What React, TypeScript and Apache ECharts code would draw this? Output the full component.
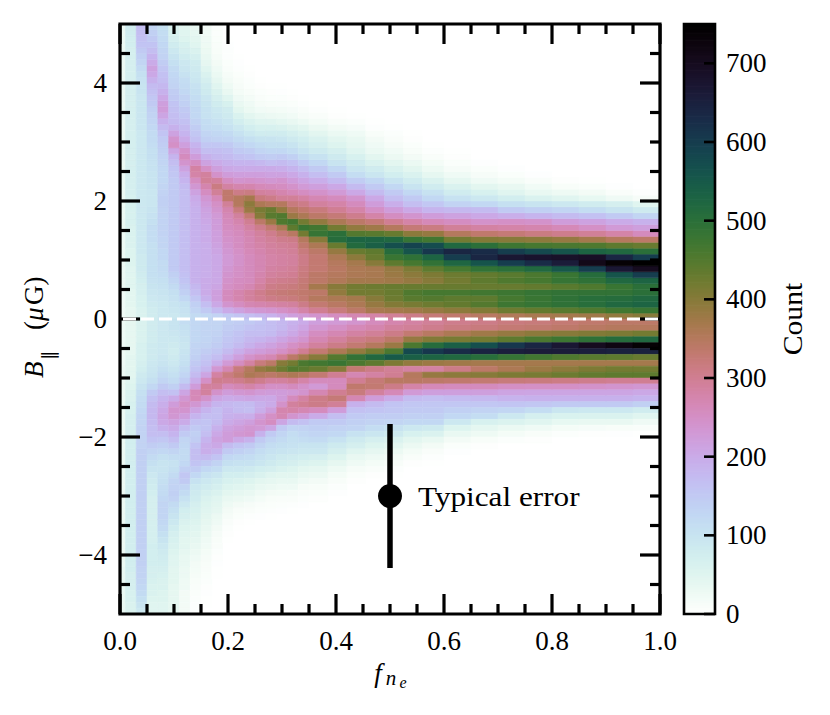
import React, { useEffect, useRef } from "react";
import * as echarts from "echarts";

const fne_edges = [0,.01,.03,.05,.07,.09,.11,.13,.15,.17,.19,.21,.23,.25,.27,.29,.31,.33,.35,.385,.42,.455,.49,.525,.56,.60,.65,.70,.75,.80,.85,.90,.95,1];

// Counts per column. "u" lists run from B=+0.05 upward, "l" lists from B=-0.05 downward, 0.1 uG per entry; omitted = 0.
const u00 = [25,25,25,25,25,30,30,30,30,30,30,30,30,30,30,30,30,30,30,30,30,30,30,30,30,30,30,30,30,30,30,30,30,30,30,30,30,30,30,30,30,30,30,30,30,30,30,30,30,30];
const l00 = [25,25,25,25,25,25,25,25,30,30,30,30,30,30,30,30,30,30,30,30,30,30,30,30,30,30,30,30,30,30,30,30,30,30,30,30,30,30,30,30,30,30,35,35,35,35,35,35,35,35];
const u01 = [40,40,45,45,45,50,50,50,50,55,55,55,60,60,60,60,65,65,65,65,65,70,70,70,70,70,70,70,70,70,70,70,70,70,70,70,70,70,70,70,70,70,70,70,70,70,75,75,80,80];
const l01 = [40,40,40,40,40,40,45,45,45,45,50,55,60,60,65,65,70,70,70,70,75,75,75,75,75,75,75,75,75,75,75,75,75,75,75,75,75,75,75,75,75,75,75,70,70,70,65,65,60,60];
const u02 = [60,60,65,65,70,70,75,80,85,85,85,90,90,90,90,90,90,90,90,90,90,90,90,90,90,90,90,90,90,90,90,90,95,95,95,95,95,95,100,100,105,110,120,130,140,150,160,165,170,170];
const l02 = [60,60,60,60,65,65,65,70,75,85,90,100,110,115,120,125,130,130,135,135,135,135,140,140,140,140,140,140,140,140,140,140,140,140,140,140,140,140,140,140,140,140,135,135,130,125,120,110,100,90];
const u03 = [80,80,85,90,95,100,105,110,110,110,110,110,110,115,115,115,110,105,100,95,95,95,100,100,100,105,105,110,110,115,120,120,125,130,135,140,150,155,165,175,190,205,215,200,185,170,160,150,140,130];
const l03 = [80,80,80,80,85,85,85,90,95,100,110,125,150,165,175,180,180,175,170,170,160,145,130,120,110,100,90,85,80,75,70,70,70,70,70,70,70,70,75,75,75,75,70,70,65,60,60,55,50,50];
const u04 = [90,90,90,95,100,105,110,115,120,120,125,125,130,130,135,135,135,135,135,140,140,135,130,125,125,125,130,135,140,145,150,160,175,190,210,225,220,205,190,180,170,165,155,145,135,130,125,120,115,110];
const l04 = [90,90,90,90,90,90,95,100,110,120,130,150,170,185,195,205,210,205,190,170,155,140,125,110,100,100,105,110,115,120,125,130,130,130,125,120,110,100,90,85,80,75,70,65,60,60,55,55,50,50];
const u05 = [90,95,100,105,110,120,130,140,150,150,150,150,150,150,150,150,150,150,150,150,150,150,150,150,155,160,170,185,210,250,240,215,190,175,170,165,160,150,145,135,130,125,120,110,100,90,80,70,65,60];
const l05 = [100,100,95,90,85,80,85,90,100,110,120,140,165,200,225,240,235,215,200,185,170,150,130,115,105,110,120,130,135,140,135,120,110,100,90,80,70,65,60,55,50,50,45,45,45,40,40,40,40,40];
const u06 = [100,105,110,125,140,150,160,165,170,170,170,170,170,170,170,170,170,170,170,170,170,170,175,185,195,215,240,260,245,220,200,185,175,165,155,150,140,135,125,120,115,105,95,90,80,70,65,55,50,45];
const l06 = [115,110,105,100,95,100,105,110,120,130,145,175,210,235,250,240,220,200,170,150,130,125,120,120,125,140,155,150,130,120,105,90,75,70,60,55,50,45,45,40,35,35,30,30,25,25,20,20,20,20];
const u07 = [120,130,140,155,170,180,190,190,190,190,190,190,190,190,190,190,190,190,190,195,200,215,235,255,280,285,255,225,200,185,165,155,145,135,125,125,120,115,110,105,95,90,85,80,70,60,50,45,40,35];
const l07 = [125,125,125,125,130,135,140,150,160,175,195,225,265,265,235,210,185,165,150,140,145,160,170,170,160,145,125,105,90,85,80,70,65,60,55,50,45,40,35,30,25,20,18,15,12,10,8,6,5,5];
const u08 = [125,150,170,190,200,200,200,195,195,195,195,195,195,200,200,200,205,210,215,225,235,255,275,295,290,250,215,190,170,155,140,130,120,115,105,105,100,95,85,80,70,60,50,40,35,30,28,25,22,20];
const l08 = [130,130,130,130,135,145,155,165,180,210,250,290,290,245,210,185,170,160,160,170,185,195,195,175,150,125,105,90,80,70,60,55,50,45,40,35,30,25,22,18,15,12,10,8,6,4,3,2,1];
const u09 = [135,175,205,220,220,210,205,205,205,205,205,210,215,220,220,225,225,230,240,250,265,295,315,290,245,220,200,180,170,155,135,125,115,105,95,90,80,70,60,50,40,32,25,20,15,12,10,8,6,5];
const l09 = [130,130,135,140,145,155,170,195,235,285,305,290,245,210,185,170,170,175,190,205,215,205,185,160,135,115,95,80,70,60,50,45,40,30,25,20,15,12,10,6,4,3,2,1];
const u10 = [150,200,240,260,260,250,245,240,235,230,230,235,240,245,250,255,260,265,275,295,335,335,285,255,225,205,190,175,165,150,130,120,105,95,85,80,65,50,35,28,20,15,10,8,5,5,3,2];
const l10 = [140,145,150,155,160,175,195,230,270,315,300,260,225,200,180,185,190,200,215,225,225,175,150,125,110,90,75,65,55,45,35,28,20,15,10,6,4,2];
const u11 = [160,215,255,275,275,260,255,250,250,245,245,250,255,255,260,265,275,290,320,350,350,310,275,240,220,200,185,165,150,135,120,105,90,75,60,45,35,25,18,15,12,8,5,3,2];
const l11 = [145,150,160,165,175,195,220,255,320,335,305,270,235,205,175,175,195,210,225,235,205,160,140,120,105,90,75,60,50,40,30,20,12,8,4,2];
const u12 = [170,230,270,290,290,270,260,260,260,260,260,265,270,270,275,285,300,330,380,395,370,315,275,245,220,200,185,160,145,125,110,90,75,60,45,30,25,18,12,8,6,4,2];
const l12 = [150,160,170,180,190,215,245,285,350,360,320,280,240,210,175,170,195,220,235,240,190,150,130,115,105,85,70,55,45,35,25,15,10,5,2];
const u13 = [180,235,275,300,305,290,280,275,270,270,270,275,280,285,290,305,340,400,415,360,320,290,265,240,220,200,180,150,130,115,100,80,65,50,35,22,15,10,6,4,2];
const l13 = [160,165,170,185,205,225,260,320,385,350,305,265,230,205,190,195,225,240,230,190,150,130,115,105,95,75,60,45,35,25,18,10,6,3];
const u14 = [190,240,280,310,320,310,300,290,285,280,280,285,290,295,305,330,380,445,430,350,310,285,260,235,215,200,170,145,125,110,100,80,65,48,30,20,12,7,4,2];
const l14 = [170,170,175,195,215,235,270,340,400,340,290,250,225,205,200,220,250,255,210,150,130,115,105,95,85,70,50,40,30,20,12,8,5,2];
const u15 = [205,250,285,315,325,315,305,295,290,285,285,290,295,305,325,360,455,455,390,350,295,275,255,240,215,195,175,150,125,110,95,80,60,42,28,18,10,6,3,1];
const l15 = [180,180,190,210,230,250,300,400,425,350,290,250,225,225,245,275,270,210,150,130,120,110,100,85,75,60,45,35,25,18,10,6,3];
const u16 = [220,260,290,320,330,320,310,300,295,290,290,295,300,310,345,440,470,380,350,320,295,265,245,225,205,185,165,140,115,100,85,70,52,35,22,14,8,4,2];
const l16 = [190,195,205,225,250,270,340,420,450,360,300,260,230,260,290,280,240,175,130,115,110,105,95,80,70,55,45,35,25,15,10,5,2];
const u17 = [230,280,310,330,335,330,325,320,315,310,310,320,335,350,420,480,420,360,335,310,285,255,230,210,190,170,145,120,100,85,75,60,45,28,15,10,5,2];
const l17 = [200,210,225,240,265,300,370,460,445,350,280,245,240,285,300,270,225,165,135,125,115,100,90,75,60,45,35,25,15,10,6,3];
const u18 = [240,300,330,350,340,370,340,340,330,330,330,340,360,400,485,470,390,340,320,290,270,245,220,195,170,150,125,105,85,70,60,45,30,18,10,5,2];
const l18 = [220,235,255,270,290,330,400,470,430,330,260,230,270,310,310,260,200,150,140,130,120,100,90,70,55,40,30,20,12,8,4];
const u19 = [255,320,345,360,390,400,355,350,345,350,360,385,430,510,500,420,360,325,300,280,260,230,205,175,150,125,100,85,70,55,45,32,20,10,4,2];
const l19 = [230,250,270,290,310,360,450,480,400,300,260,260,300,325,295,225,170,150,135,125,105,85,70,55,40,28,18,12,6,3];
const u20 = [270,340,360,370,420,420,370,360,360,370,395,430,515,530,450,390,340,305,280,260,240,205,175,145,115,95,80,65,50,40,35,25,14,6,2];
const l20 = [240,265,285,310,330,390,490,460,330,270,300,335,320,270,190,165,150,140,130,105,85,70,50,35,25,15,8,4];
const u21 = [280,365,385,400,420,425,370,365,365,400,430,440,540,530,445,375,325,280,250,225,205,175,150,125,95,80,60,45,32,25,20,12,5,2];
const l21 = [260,275,295,320,350,420,520,440,310,285,325,330,290,225,175,160,145,135,115,95,70,55,40,28,18,10,4];
const u22 = [295,370,405,425,430,430,375,380,385,440,480,510,570,520,430,350,300,255,225,195,170,150,125,100,75,60,45,30,22,15,10,6,2];
const l22 = [275,290,310,340,380,460,550,410,295,300,345,310,265,200,160,155,145,130,105,85,60,45,30,20,12,5,2];
const u23 = [310,375,415,445,455,430,385,395,410,465,495,560,590,485,395,325,280,240,205,170,150,125,100,80,60,45,32,20,12,8,4,2];
const l23 = [285,295,330,385,460,580,540,390,285,350,345,280,230,175,155,150,140,125,90,65,45,30,18,10,4];
const u24 = [325,385,425,450,465,430,400,410,440,490,530,610,575,470,385,315,265,225,185,155,125,105,80,60,40,28,18,10,5,2];
const l24 = [295,305,345,405,510,610,530,380,285,385,340,265,220,170,155,150,140,125,85,60,35,20,10,5,2];
const u25 = [335,395,435,440,465,430,420,425,465,525,600,640,520,420,350,295,255,215,180,135,105,80,60,40,25,15,8,4,1];
const l25 = [305,315,360,415,540,630,520,375,310,395,335,260,220,175,155,140,125,90,55,35,20,8,3];
const u26 = [345,405,450,440,470,430,440,435,490,560,640,630,500,405,335,285,245,205,175,125,90,65,45,25,15,8,3];
const l26 = [310,320,375,420,570,645,505,370,340,400,330,260,220,180,155,135,115,65,42,28,12,4];
const u27 = [355,425,475,465,475,430,455,445,500,600,670,600,475,400,325,280,250,195,150,110,75,50,35,18,8,3];
const l27 = [318,328,385,440,610,655,485,370,360,410,322,252,212,188,158,128,90,58,32,18,6];
const u28 = [365,435,485,480,485,435,465,460,520,630,680,580,465,395,315,275,245,185,140,100,60,35,22,10,3];
const l28 = [322,332,395,460,640,660,470,370,380,415,318,250,210,190,155,115,70,50,25,12,4];
const u29 = [370,445,495,495,490,445,485,480,555,660,685,560,460,385,305,265,225,175,130,90,50,28,12,4];
const l29 = [328,338,400,475,670,660,455,370,395,425,312,250,210,190,150,95,62,38,18,6];
const u30 = [375,455,505,505,490,455,495,510,600,710,690,530,455,370,295,250,215,165,115,80,38,20,8,2];
const l30 = [335,345,405,495,700,655,445,370,410,435,305,245,210,190,150,90,60,35,14,4];
const u31 = [390,470,520,510,490,480,520,560,670,740,640,520,440,350,280,230,200,150,100,70,25,10,3];
const l31 = [340,350,410,510,720,650,440,370,420,440,300,240,210,190,150,90,60,35,12,3];
const u32 = [400,480,530,520,500,500,530,600,700,750,600,500,430,340,260,220,190,130,85,50,15,5];
const l32 = [340,350,420,520,740,650,430,370,420,440,300,235,205,185,140,80,50,25,10,2];

const upperColumns = [u00,u01,u02,u03,u04,u05,u06,u07,u08,u09,u10,u11,u12,u13,u14,u15,u16,u17,u18,u19,u20,u21,u22,u23,u24,u25,u26,u27,u28,u29,u30,u31,u32];
const lowerColumns = [l00,l01,l02,l03,l04,l05,l06,l07,l08,l09,l10,l11,l12,l13,l14,l15,l16,l17,l18,l19,l20,l21,l22,l23,l24,l25,l26,l27,l28,l29,l30,l31,l32];

const xMajor = [0, .2, .4, .6, .8, 1];
const xMinor = [.05,.1,.15,.25,.3,.35,.45,.5,.55,.65,.7,.75,.85,.9,.95];
const yMajor = [-4, -2, 0, 2, 4];
const yMinor = [-4.5,-3.5,-3,-2.5,-1.5,-1,-.5,.5,1,1.5,2.5,3,3.5,4.5];
const barTicks = [0,100,200,300,400,500,600,700];
const errorBar = [[.5,-1.78],[.5,-4.22]];
const errorPoint = [[.5,-3]];
const zeroLine = [[0,0],[1,0]];
const VMAX = 750;
const FONT = '"Liberation Serif", serif';

// matplotlib cubehelix_r colour map
function cube(v: number) {
  const t = 1 - Math.min(1, Math.max(0, v / VMAX));
  const a = 0.5 * t * (1 - t);
  const phi = 2 * Math.PI * (0.5 / 3 + 1 - 1.5 * t);
  const c = Math.cos(phi), s = Math.sin(phi);
  const f = (x: number) => Math.round(255 * Math.min(1, Math.max(0, x)));
  return `rgb(${f(t + a * (-0.14861 * c + 1.78277 * s))},${f(t + a * (-0.29227 * c - 0.90649 * s))},${f(t + a * 1.97294 * c)})`;
}

export default function App() {
  const ref = useRef<HTMLDivElement>(null);
  useEffect(() => {
    const chart = echarts.init(ref.current!, null, { renderer: "svg" });
    const cells: number[][] = [];
    upperColumns.forEach((col, c) => col.forEach((v, r) => { if (v > 0) cells.push([fne_edges[c], fne_edges[c + 1], 0.05 + r * 0.1, v]); }));
    lowerColumns.forEach((col, c) => col.forEach((v, r) => { if (v > 0) cells.push([fne_edges[c], fne_edges[c + 1], -0.05 - r * 0.1, v]); }));

    const barLevels: number[] = [];
    for (let i = 0; i < 256; i++) barLevels.push(i);

    const ticks: { side: string; v: number; len: number }[] = [];
    xMajor.forEach((v) => { ticks.push({ side: "b", v, len: 20 }, { side: "t", v, len: 20 }); });
    xMinor.forEach((v) => { ticks.push({ side: "b", v, len: 10 }, { side: "t", v, len: 10 }); });
    yMajor.forEach((v) => { ticks.push({ side: "l", v, len: 20 }, { side: "r", v, len: 20 }); });
    yMinor.forEach((v) => { ticks.push({ side: "l", v, len: 10 }, { side: "r", v, len: 10 }); });

    const black = { stroke: "#000", lineWidth: 3.2, fill: "none" };
    const option: any = {
      animation: false,
      backgroundColor: "#fff",
      grid: [
        { left: 120, top: 24, width: 540, height: 590 },
        { left: 684, top: 24, width: 31, height: 590 },
      ],
      xAxis: [
        { type: "value", gridIndex: 0, min: 0, max: 1, interval: 0.2, axisLine: { show: false }, axisTick: { show: false }, splitLine: { show: false },
          axisLabel: { margin: 13, color: "#000", fontFamily: FONT, fontSize: 27, formatter: (v: number) => v.toFixed(1) } },
        { type: "value", gridIndex: 1, min: 0, max: 1, show: false },
      ],
      yAxis: [
        { type: "value", gridIndex: 0, min: -5, max: 5, interval: 1, axisLine: { show: false }, axisTick: { show: false }, splitLine: { show: false },
          axisLabel: { margin: 13, color: "#000", fontFamily: FONT, fontSize: 27,
            formatter: (v: number) => (Math.abs(v) % 2 === 0 ? (v < 0 ? "\u2212" + Math.abs(v) : String(v)) : "") } },
        { type: "value", gridIndex: 1, position: "right", min: 0, max: VMAX, interval: 100, axisLine: { show: false }, axisTick: { show: false }, splitLine: { show: false },
          axisLabel: { margin: 11, color: "#000", fontFamily: FONT, fontSize: 27, formatter: (v: number) => (v > 700 ? "" : String(v)) } },
      ],
      series: [
        {
          type: "custom", name: "Count", xAxisIndex: 0, yAxisIndex: 0, z: 1, clip: false, progressive: 0, silent: true,
          data: cells, encode: { x: 0, y: 2 },
          renderItem: (_: any, api: any) => {
            const y = api.value(2);
            const a = api.coord([api.value(0), y + 0.05]);
            const b = api.coord([api.value(1), y - 0.05]);
            const col = cube(api.value(3));
            return { type: "rect", shape: { x: a[0], y: a[1], width: b[0] - a[0], height: b[1] - a[1] }, style: { fill: col, stroke: col, lineWidth: 0.5 } };
          },
        },
        {
          type: "custom", name: "colorbar", xAxisIndex: 1, yAxisIndex: 1, z: 1, clip: false, progressive: 0, silent: true,
          data: barLevels.map((i) => [i]),
          renderItem: (_: any, api: any) => {
            const i = api.value(0);
            const v0 = (i / 256) * VMAX, v1 = ((i + 1) / 256) * VMAX;
            const a = api.coord([0, v1]);
            const b = api.coord([1, v0]);
            const col = cube(((i + 0.5) / 256) * VMAX);
            return { type: "rect", shape: { x: a[0], y: a[1], width: b[0] - a[0], height: b[1] - a[1] + (i > 0 ? 0.7 : 0) }, style: { fill: col } };
          },
        },
        {
          type: "custom", name: "barFrame", xAxisIndex: 1, yAxisIndex: 1, z: 4, clip: false, silent: true,
          data: [...barTicks.map((v) => [v]), [-1]],
          renderItem: (_: any, api: any) => {
            const v = api.value(0);
            if (v < 0) {
              const a = api.coord([0, VMAX]);
              const b = api.coord([1, 0]);
              return { type: "rect", shape: { x: a[0], y: a[1], width: b[0] - a[0], height: b[1] - a[1] }, style: { ...black, lineWidth: 2.6 } };
            }
            const p = api.coord([1, v]);
            return { type: "line", shape: { x1: p[0] - 11, y1: p[1], x2: p[0], y2: p[1] }, style: { stroke: "#000", lineWidth: 2.6 } };
          },
        },
        {
          type: "custom", name: "ticks", xAxisIndex: 0, yAxisIndex: 0, z: 3, clip: false, silent: true,
          data: ticks.map((t) => [t.v]),
          renderItem: (p: any, api: any) => {
            const t = ticks[p.dataIndex];
            const s = (x: number, y: number) => api.coord([x, y]);
            let sh;
            if (t.side === "b") { const q = s(t.v, -5); sh = { x1: q[0], y1: q[1], x2: q[0], y2: q[1] - t.len }; }
            else if (t.side === "t") { const q = s(t.v, 5); sh = { x1: q[0], y1: q[1], x2: q[0], y2: q[1] + t.len }; }
            else if (t.side === "l") { const q = s(0, t.v); sh = { x1: q[0], y1: q[1], x2: q[0] + t.len, y2: q[1] }; }
            else { const q = s(1, t.v); sh = { x1: q[0], y1: q[1], x2: q[0] - t.len, y2: q[1] }; }
            return { type: "line", shape: sh, style: { stroke: "#000", lineWidth: 3.2 } };
          },
        },
        {
          type: "custom", name: "frame", xAxisIndex: 0, yAxisIndex: 0, z: 3, clip: false, silent: true,
          data: [[0]],
          renderItem: (_: any, api: any) => {
            const a = api.coord([0, 5]);
            const b = api.coord([1, -5]);
            return { type: "rect", shape: { x: a[0], y: a[1], width: b[0] - a[0], height: b[1] - a[1] }, style: black };
          },
        },
        { type: "line", xAxisIndex: 0, yAxisIndex: 0, z: 5, clip: false, silent: true, symbol: "none", data: zeroLine,
          lineStyle: { color: "#fff", width: 3, type: [13, 5], dashOffset: -3 } },
        { type: "line", xAxisIndex: 0, yAxisIndex: 0, z: 6, clip: false, silent: true, symbol: "none", data: errorBar,
          lineStyle: { color: "#000", width: 5.5, cap: "butt" } },
        { type: "scatter", xAxisIndex: 0, yAxisIndex: 0, z: 7, silent: true, symbolSize: 24, data: errorPoint, itemStyle: { color: "#000", opacity: 1 } },
      ],
      graphic: [
        { type: "text", x: 418, y: 497, scaleX: 1.115, z: 10, style: { text: "Typical error", font: `28px ${FONT}`, fill: "#000", verticalAlign: "middle", align: "left" } },
        { type: "text", x: 793, y: 319, rotation: Math.PI / 2, scaleX: 1.1, z: 10, style: { text: "Count", font: `27px ${FONT}`, fill: "#000", verticalAlign: "middle", align: "center" } },
        { type: "text", x: 378, y: 673, z: 10, style: { text: "f", font: `italic 27px ${FONT}`, fill: "#000", verticalAlign: "middle", align: "center" } },
        { type: "text", x: 391, y: 678, z: 10, style: { text: "n", font: `italic 21px ${FONT}`, fill: "#000", verticalAlign: "middle", align: "center" } },
        { type: "text", x: 403, y: 682, z: 10, style: { text: "e", font: `italic 16px ${FONT}`, fill: "#000", verticalAlign: "middle", align: "center" } },
        { type: "group", x: 34, y: 378, rotation: Math.PI / 2, z: 10, children: [
          { type: "text", x: 0, y: 0, style: { text: "B", font: `italic 27px ${FONT}`, fill: "#000", verticalAlign: "middle", align: "left" } },
          { type: "text", x: 18, y: 14, style: { text: "\u2225", font: `18px "DejaVu Sans"`, fill: "#000", verticalAlign: "middle", align: "left" } },
          { type: "text", x: 48, y: 0, style: { text: "(", font: `27px ${FONT}`, fill: "#000", verticalAlign: "middle", align: "left" } },
          { type: "text", x: 57, y: 0, style: { text: "\u03bc", font: `italic 27px ${FONT}`, fill: "#000", verticalAlign: "middle", align: "left" } },
          { type: "text", x: 73, y: 0, style: { text: "G)", font: `27px ${FONT}`, fill: "#000", verticalAlign: "middle", align: "left" } },
        ] },
      ],
    };
    chart.setOption(option);
    return () => chart.dispose();
  }, []);
  return <div ref={ref} style={{ position: "absolute", left: 0, top: 0, width: 830, height: 715, background: "#fff" }} />;
}
